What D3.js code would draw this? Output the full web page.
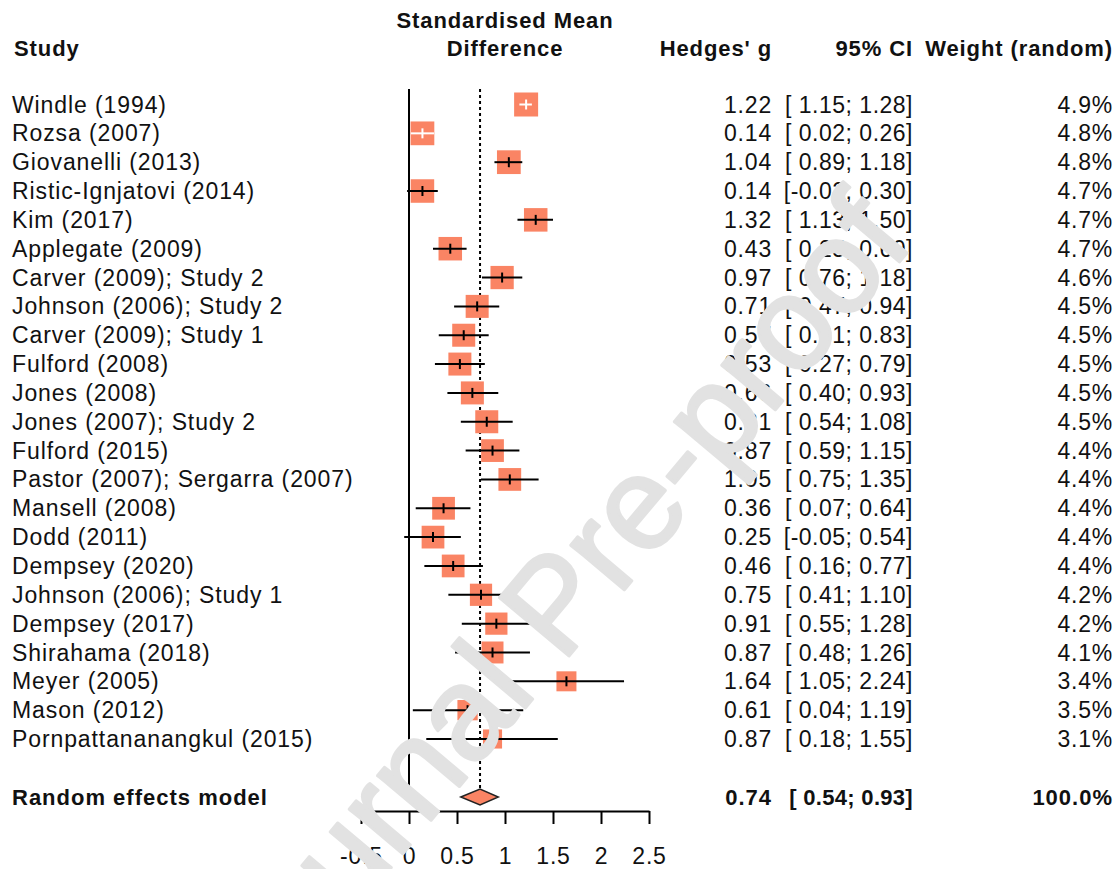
<!DOCTYPE html>
<html><head><meta charset="utf-8">
<script src="https://cdn.jsdelivr.net/npm/d3@7"></script>
<style>body{margin:0;background:#fff}svg{display:block}</style>
</head><body>
<svg id="c" width="1119" height="869"></svg>
<script>
const studies = ["Windle (1994)","Rozsa (2007)","Giovanelli (2013)","Ristic-Ignjatovi (2014)","Kim (2017)","Applegate (2009)","Carver (2009); Study 2","Johnson (2006); Study 2","Carver (2009); Study 1","Fulford (2008)","Jones (2008)","Jones (2007); Study 2","Fulford (2015)","Pastor (2007); Sergarra (2007)","Mansell (2008)","Dodd (2011)","Dempsey (2020)","Johnson (2006); Study 1","Dempsey (2017)","Shirahama (2018)","Meyer (2005)","Mason (2012)","Pornpattananangkul (2015)"];
const estimates = [1.22,0.14,1.04,0.14,1.32,0.43,0.97,0.71,0.57,0.53,0.66,0.81,0.87,1.05,0.36,0.25,0.46,0.75,0.91,0.87,1.64,0.61,0.87];
const lower = [1.15,0.02,0.89,-0.02,1.13,0.25,0.76,0.47,0.31,0.27,0.40,0.54,0.59,0.75,0.07,-0.05,0.16,0.41,0.55,0.48,1.05,0.04,0.18];
const upper = [1.28,0.26,1.18,0.30,1.50,0.60,1.18,0.94,0.83,0.79,0.93,1.08,1.15,1.35,0.64,0.54,0.77,1.10,1.28,1.26,2.24,1.19,1.55];
const weights = [4.9,4.8,4.8,4.7,4.7,4.7,4.6,4.5,4.5,4.5,4.5,4.5,4.4,4.4,4.4,4.4,4.4,4.2,4.2,4.1,3.4,3.5,3.1];
const pooledLabel = "Random effects model";
const pooledEst = 0.74, pooledLower = 0.54, pooledUpper = 0.93, pooledWeight = 100.0;
const xTicks = [-0.5,0,0.5,1,1.5,2,2.5];
const headers = {study:"Study", plot:["Standardised Mean","Difference"], est:"Hedges' g", ci:"95% CI", w:"Weight (random)"};

const FONT = "'Liberation Sans', Arial, sans-serif";
const FS = 23;
const LS = 0.8;
const SALMON = "#fa8464";
const svg = d3.select("#c").style("font-family", FONT);

const x = d3.scaleLinear().domain([-0.5, 2.5]).range([361, 649]);
const y = d3.scaleLinear().domain([0, studies.length - 1]).range([104.5, 739]);
const yPooled = 797;
const size = d3.scaleSqrt().domain([0, 4.9]).range([0, 24]);

const f2 = d3.format(".2f");
const fmt = v => v < 0 ? "-" + f2(-v) : f2(v);
const ciText = (lo, hi) => "[" + (lo < 0 ? "" : " ") + fmt(lo) + "; " + fmt(hi) + "]";

// headers
const hd = svg.append("g").attr("font-weight", "bold").attr("font-size", 22).attr("letter-spacing", 0.9).attr("fill", "#111");
hd.append("text").attr("x", 14).attr("y", 48).attr("dy", "0.35em").text(headers.study);
hd.append("text").attr("x", 505).attr("y", 20).attr("dy", "0.35em").attr("text-anchor", "middle").text(headers.plot[0]);
hd.append("text").attr("x", 505).attr("y", 48).attr("dy", "0.35em").attr("text-anchor", "middle").text(headers.plot[1]);
hd.append("text").attr("x", 772).attr("y", 48).attr("dy", "0.35em").attr("text-anchor", "end").text(headers.est);
hd.append("text").attr("x", 913).attr("y", 48).attr("dy", "0.35em").attr("text-anchor", "end").text(headers.ci);
hd.append("text").attr("x", 1113).attr("y", 48).attr("dy", "0.35em").attr("text-anchor", "end").text(headers.w);

// reference lines
svg.append("line").attr("x1", x(0)).attr("x2", x(0)).attr("y1", 89).attr("y2", yPooled)
  .attr("stroke", "#000").attr("stroke-width", 2);
svg.append("line").attr("x1", x(pooledEst)).attr("x2", x(pooledEst)).attr("y1", 89).attr("y2", yPooled - 8)
  .attr("stroke", "#000").attr("stroke-width", 2).attr("stroke-dasharray", "3,3");

// study rows
const rows = svg.append("g").selectAll("g").data(studies).join("g");
rows.append("rect")
  .attr("x", (d, i) => x(estimates[i]) - size(weights[i]) / 2)
  .attr("y", (d, i) => y(i) - size(weights[i]) / 2)
  .attr("width", (d, i) => size(weights[i]))
  .attr("height", (d, i) => size(weights[i]))
  .attr("fill", SALMON);
const lineColor = i => (x(upper[i]) - x(lower[i]) < size(weights[i])) ? "#fff" : "#000";
rows.append("line")
  .attr("x1", (d, i) => x(lower[i])).attr("x2", (d, i) => x(upper[i]))
  .attr("y1", (d, i) => y(i)).attr("y2", (d, i) => y(i))
  .attr("stroke", (d, i) => lineColor(i)).attr("stroke-width", 2);
rows.append("line")
  .attr("x1", (d, i) => x(estimates[i])).attr("x2", (d, i) => x(estimates[i]))
  .attr("y1", (d, i) => y(i) - 5).attr("y2", (d, i) => y(i) + 5)
  .attr("stroke", (d, i) => lineColor(i)).attr("stroke-width", 2);

const txt = svg.append("g").attr("font-size", FS).attr("letter-spacing", LS).attr("fill", "#111");
studies.forEach((s, i) => {
  txt.append("text").attr("x", 12).attr("y", y(i)).attr("dy", "0.35em").attr("letter-spacing", 0.9).text(s);
  txt.append("text").attr("x", 772).attr("y", y(i)).attr("dy", "0.35em").attr("text-anchor", "end").text(fmt(estimates[i]));
  txt.append("text").attr("x", 913).attr("y", y(i)).attr("dy", "0.35em").attr("text-anchor", "end").attr("letter-spacing", 0.5).text(ciText(lower[i], upper[i]));
  txt.append("text").attr("x", 1113).attr("y", y(i)).attr("dy", "0.35em").attr("text-anchor", "end").text(d3.format(".1f")(weights[i]) + "%");
});

// pooled
svg.append("path")
  .attr("d", `M${x(pooledLower)},${yPooled}L${x(pooledEst)},${yPooled - 8}L${x(pooledUpper)},${yPooled}L${x(pooledEst)},${yPooled + 8}Z`)
  .attr("fill", SALMON).attr("stroke", "#222").attr("stroke-width", 1.5);
const pt = svg.append("g").attr("font-size", 22).attr("font-weight", "bold").attr("letter-spacing", 1).attr("fill", "#111");
pt.append("text").attr("x", 12).attr("y", yPooled).attr("dy", "0.35em").text(pooledLabel);
pt.append("text").attr("x", 772).attr("y", yPooled).attr("dy", "0.35em").attr("text-anchor", "end").text(fmt(pooledEst));
pt.append("text").attr("x", 913).attr("y", yPooled).attr("dy", "0.35em").attr("text-anchor", "end").attr("letter-spacing", 0.3).text(ciText(pooledLower, pooledUpper));
pt.append("text").attr("x", 1113).attr("y", yPooled).attr("dy", "0.35em").attr("text-anchor", "end").text(d3.format(".1f")(pooledWeight) + "%");

// axis
const ax = svg.append("g").attr("transform", "translate(0,811)")
  .call(d3.axisBottom(x).tickValues(xTicks).tickSize(13).tickSizeOuter(0).tickPadding(24).tickFormat(d => String(d)));
ax.select(".domain").attr("stroke", "#000").attr("stroke-width", 2);
ax.selectAll(".tick line").attr("stroke", "#000").attr("stroke-width", 2);
ax.selectAll(".tick text").attr("font-size", FS).attr("font-family", FONT).attr("letter-spacing", LS).attr("fill", "#111");

// watermark
svg.append("text")
  .attr("transform", "translate(553,604) rotate(-50)")
  .attr("text-anchor", "middle").attr("dominant-baseline", "central")
  .attr("font-size", 132).attr("font-family", FONT).attr("fill", "#e2e2e2")
  .attr("stroke", "#e2e2e2").attr("stroke-width", 3).attr("stroke-linejoin", "round")
  .text("Journal Pre-proof");
</script>
</body></html>
